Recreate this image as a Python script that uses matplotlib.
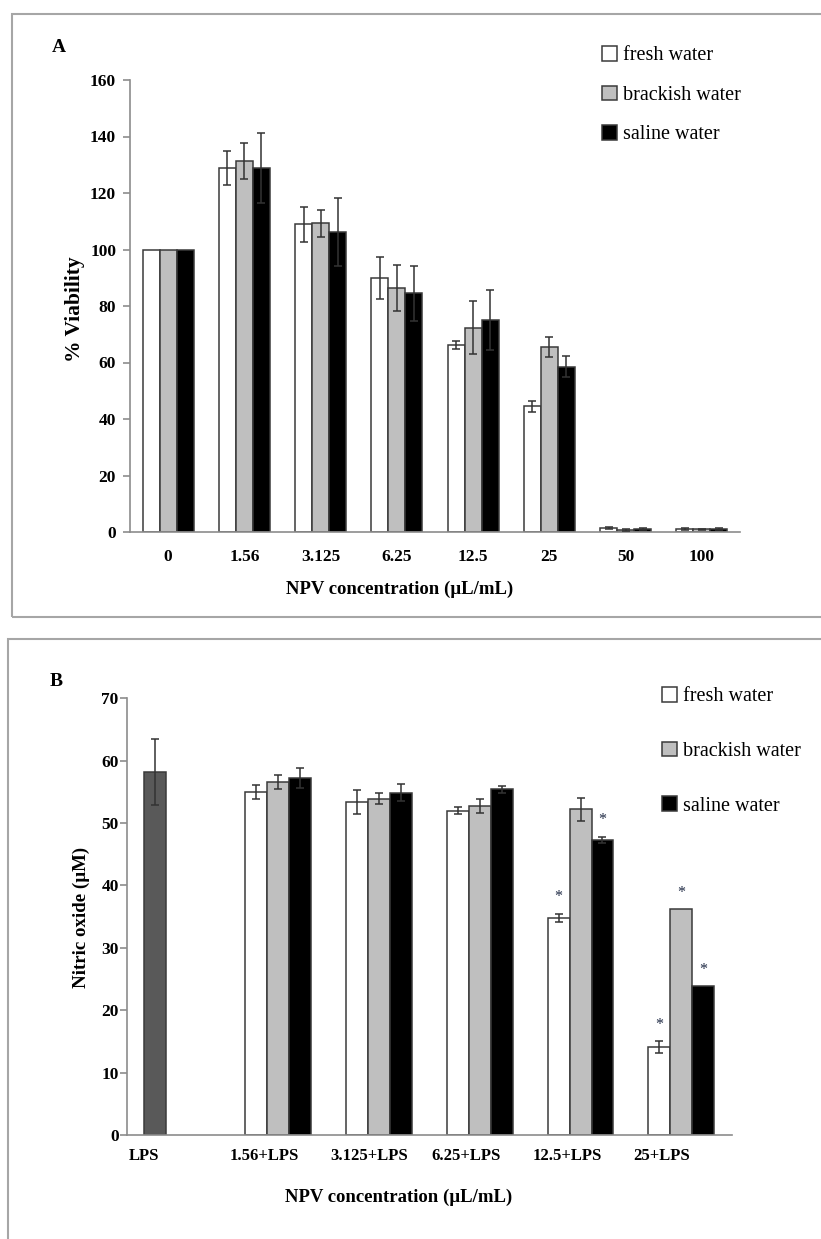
import numpy as np
import matplotlib
matplotlib.use('Agg')
import matplotlib.pyplot as plt
from matplotlib.patches import Rectangle

plt.rcParams['font.family'] = ['Liberation Serif', 'DejaVu Serif']

series = ['fresh water', 'brackish water', 'saline water']
colors = ['white', '#bfbfbf', 'black']

# panel A - viability
conc_a = ['0', '1.56', '3.125', '6.25', '12.5', '25', '50', '100']
fresh_a = [100, 129.0, 108.9, 89.9, 66.2, 44.5, 1.3, 1.1]
fresh_a_err = [0, 6.0, 6.3, 7.4, 1.5, 2.0, 0.4, 0.4]
brack_a = [100, 131.3, 109.3, 86.4, 72.3, 65.4, 0.8, 0.9]
brack_a_err = [0, 6.4, 4.7, 8.1, 9.4, 3.5, 0.3, 0.3]
sal_a = [100, 128.7, 106.2, 84.5, 75.0, 58.5, 1.1, 1.0]
sal_a_err = [0, 12.4, 12.0, 9.7, 10.5, 3.8, 0.4, 0.3]

# panel B - nitric oxide
conc_b = ['LPS', '1.56+LPS', '3.125+LPS', '6.25+LPS', '12.5+LPS', '25+LPS']
lps_b = [58.2]
lps_b_err = [5.3]
fresh_b = [55.0, 53.4, 52.0, 34.8, 14.1]
fresh_b_err = [1.1, 1.9, 0.6, 0.7, 0.9]
brack_b = [56.6, 53.9, 52.7, 52.2, 36.2]
brack_b_err = [1.1, 0.9, 1.1, 1.8, 0]
sal_b = [57.3, 54.9, 55.4, 47.3, 23.9]
sal_b_err = [1.6, 1.4, 0.5, 0.5, 0]
fresh_b_star = [False, False, False, True, True]
brack_b_star = [False, False, False, False, True]
sal_b_star = [False, False, False, True, True]

edge = '#3a3a3a'
spine = '#8c8c8c'
errc = '#333333'


def draw_bars(ax, x, vals, errs, color, w, label=None):
    ax.bar(x, vals, w, color=color, edgecolor=edge, linewidth=1.1, label=label, zorder=2)
    x = np.asarray(x, dtype=float)
    vals = np.asarray(vals, dtype=float)
    errs = np.asarray(errs, dtype=float)
    m = errs > 0
    if m.any():
        ax.errorbar(x[m], vals[m], yerr=errs[m], fmt='none', ecolor=errc,
                    elinewidth=1.1, capsize=3.2, capthick=1.1, zorder=3)


def style_axes(ax):
    for s in ['top', 'right']:
        ax.spines[s].set_visible(False)
    for s in ['left', 'bottom']:
        ax.spines[s].set_color(spine)
        ax.spines[s].set_linewidth(1.2)
    ax.tick_params(axis='y', colors=spine, length=5, width=1.2, labelcolor='black', labelsize=12.5)
    ax.tick_params(axis='x', length=0, labelsize=12.5)
    for t in ax.get_yticklabels() + ax.get_xticklabels():
        t.set_fontweight('bold')


fig = plt.figure(figsize=(8.21, 12.39), dpi=100)

# panel frames
fig.add_artist(Rectangle((12 / 821, 1 - 617 / 1239), 1.0, (617 - 14) / 1239,
                         transform=fig.transFigure, fill=False, edgecolor='#a6a6a6', lw=1.5))
fig.add_artist(Rectangle((8 / 821, -0.05), 1.0, 1 - 639 / 1239 + 0.05,
                         transform=fig.transFigure, fill=False, edgecolor='#a6a6a6', lw=1.5))

# ---- panel A ----
axA = fig.add_axes([130 / 821, 1 - 532 / 1239, 610 / 821, 452 / 1239])
xa = np.arange(len(conc_a))
wa = 0.223
for k, (v, e) in enumerate([(fresh_a, fresh_a_err), (brack_a, brack_a_err), (sal_a, sal_a_err)]):
    draw_bars(axA, xa + (k - 1) * wa, v, e, colors[k], wa, label=series[k])
axA.set_xlim(-0.5, len(conc_a) - 0.5)
axA.set_ylim(0, 160)
axA.set_yticks(np.arange(0, 161, 20))
axA.set_xticks(xa)
axA.set_xticklabels(conc_a)
style_axes(axA)
axA.tick_params(axis='x', pad=12)
axA.tick_params(axis='y', pad=5)
fig.text(75 / 821, 1 - 309 / 1239, '% Viability', fontsize=15.5, fontweight='bold',
         rotation=90, ha='center', va='center')
fig.text(400 / 821, 1 - 589 / 1239, 'NPV concentration (\u00b5L/mL)', fontsize=13.5,
         fontweight='bold', ha='center', va='center')
fig.text(52 / 821, 1 - 47 / 1239, 'A', fontsize=14, fontweight='bold', ha='left', va='center')
axA.legend(loc='upper left', bbox_to_anchor=(602 / 821, 1 - 46 / 1239),
           bbox_transform=fig.transFigure, frameon=False, fontsize=14.5,
           handlelength=0.75, handleheight=0.75, handletextpad=0.3,
           labelspacing=1.0, borderpad=0, borderaxespad=0)

# ---- panel B ----
axB = fig.add_axes([127 / 821, 1 - 1135 / 1239, 604.7 / 821, 436.7 / 1239])
xb = np.arange(len(conc_b))
wb = 0.218
axB.bar(xb[:1] - wb, lps_b, wb, color='#595959', edgecolor=edge, linewidth=1.1, zorder=2)
axB.errorbar(xb[:1] - wb, lps_b, yerr=lps_b_err, fmt='none', ecolor=errc,
             elinewidth=1.1, capsize=3.2, capthick=1.1, zorder=3)
groups_b = [(fresh_b, fresh_b_err, fresh_b_star), (brack_b, brack_b_err, brack_b_star),
            (sal_b, sal_b_err, sal_b_star)]
for k, (v, e, st) in enumerate(groups_b):
    xs = xb[1:] + (k - 1) * wb
    draw_bars(axB, xs, v, e, colors[k], wb, label=series[k])
    for xi, vi, ei, si in zip(xs, v, e, st):
        if si:
            axB.annotate('*', (xi, vi + ei), xytext=(0, 6), textcoords='offset points',
                         ha='center', va='bottom', fontsize=11.5, color='#1f2a44')
axB.set_xlim(-0.5, len(conc_b) - 0.5)
axB.set_ylim(0, 70)
axB.set_yticks(np.arange(0, 71, 10))
axB.set_xticks(xb - 0.48)
axB.set_xticklabels(conc_b, ha='left')
style_axes(axB)
axB.tick_params(axis='x', pad=9, labelsize=12)
axB.tick_params(axis='y', pad=1)
fig.text(81 / 821, 1 - 917 / 1239, 'Nitric oxide (\u00b5M)', fontsize=13.6, fontweight='bold',
         rotation=90, ha='center', va='center')
fig.text(399 / 821, 1 - 1197 / 1239, 'NPV concentration (\u00b5L/mL)', fontsize=13.5,
         fontweight='bold', ha='center', va='center')
fig.text(50 / 821, 1 - 682 / 1239, 'B', fontsize=14, fontweight='bold', ha='left', va='center')
axB.legend(loc='upper left', bbox_to_anchor=(662 / 821, 1 - 687 / 1239),
           bbox_transform=fig.transFigure, frameon=False, fontsize=14.5,
           handlelength=0.75, handleheight=0.75, handletextpad=0.3,
           labelspacing=1.75, borderpad=0, borderaxespad=0)

fig.savefig('out.png', dpi=100)
